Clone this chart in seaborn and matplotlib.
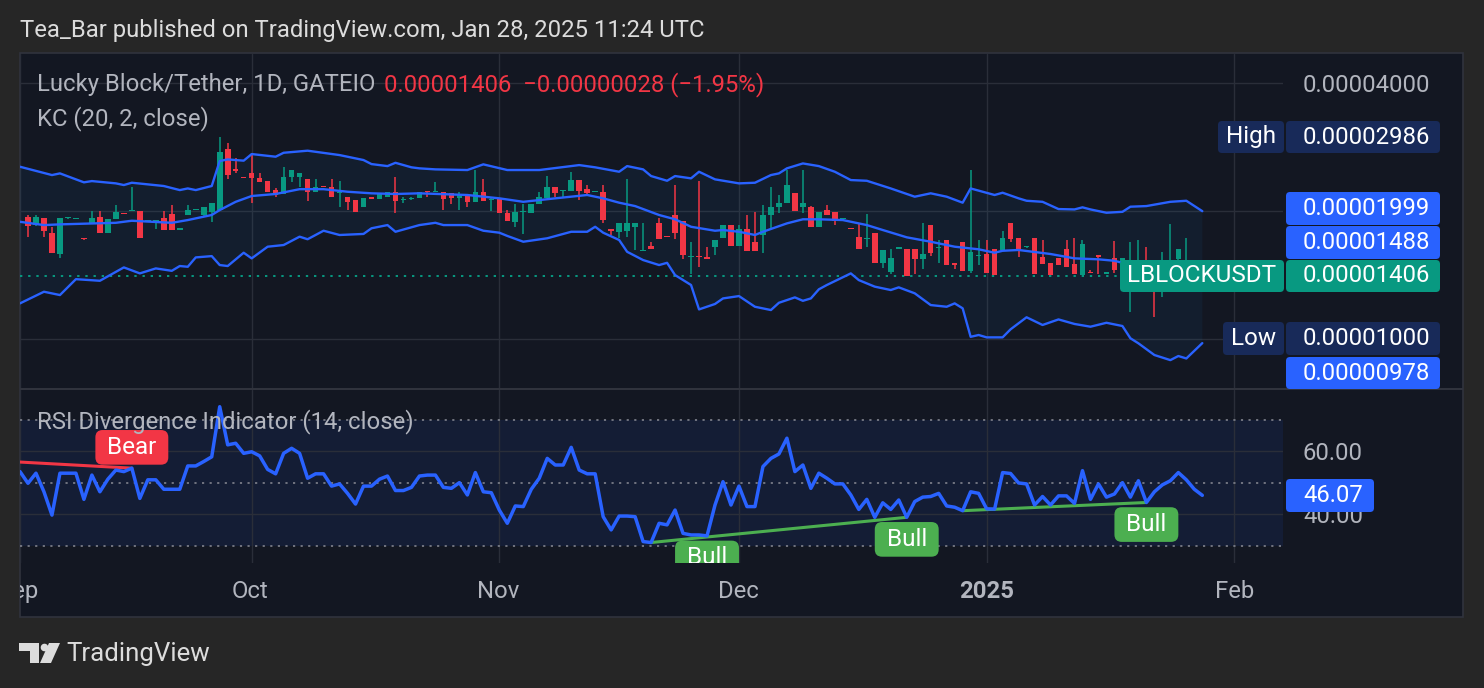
import numpy as np
import pandas as pd
import seaborn as sns
import matplotlib.pyplot as plt
from matplotlib.patches import Rectangle, FancyBboxPatch, Polygon, Circle
from matplotlib.ticker import NullLocator, NullFormatter

# prices below are in units of 0.00001 USDT, one daily bar from Sep 3 2024
first_day = pd.Timestamp("2024-09-03")

open_e5 = [1.934, 1.854, 1.923, 1.779, 1.585, 1.922, 1.915, 1.720, 1.877, 1.934,
           1.774, 1.912, 1.978, 2.005, 2.000, 1.897, 1.894, 1.923, 1.969, 1.810,
           1.958, 2.009, 1.958, 1.992, 2.011, 2.795, 2.507, 2.400, 2.461, 2.388,
           2.357, 2.241, 2.190, 2.410, 2.410, 2.375, 2.221, 2.284, 2.274, 2.205,
           2.162, 2.123, 2.041, 2.145, 2.135, 2.162, 2.221, 2.123, 2.138, 2.143,
           2.229, 2.217, 2.221, 2.202, 2.143, 2.174, 2.103, 2.221, 2.120, 2.131,
           1.982, 1.887, 1.991, 1.976, 2.078, 2.143, 2.274, 2.227, 2.229, 2.366,
           2.249, 2.219, 2.221, 1.812, 1.788, 1.798, 1.831, 1.613, 1.655, 1.877,
           1.737, 1.958, 1.898, 1.560, 1.562, 1.562, 1.643, 1.726, 1.854, 1.655,
           1.812, 1.694, 1.757, 1.958, 2.041, 2.086, 2.209, 2.041, 2.041, 1.831,
           2.011, 1.992, 1.911, 1.817, 1.735, 1.716, 1.774, 1.507, 1.440, 1.633,
           1.626, 1.626, 1.540, 1.854, 1.634, 1.710, 1.507, 1.694, 1.447, 1.566,
           1.585, 1.626, 1.620, 1.871, 1.726, 1.642, 1.726, 1.560, 1.507, 1.548,
           1.626, 1.501, 1.414, 1.440, 1.576, 1.426, 1.548, 1.466, 1.414, 1.440,
           1.517, 1.453, 1.340, 1.440, 1.543, 1.440, 1.500, 1.434]
high_e5 = [1.958, 1.958, 1.926, 1.837, 1.923, 1.930, 1.920, 1.722, 2.000, 2.000,
           1.916, 2.067, 1.980, 2.274, 2.000, 1.900, 1.898, 2.000, 2.067, 1.815,
           2.067, 2.013, 2.041, 2.086, 2.986, 2.897, 2.661, 2.400, 2.709, 2.453,
           2.357, 2.261, 2.543, 2.498, 2.457, 2.375, 2.375, 2.286, 2.375, 2.357,
           2.162, 2.123, 2.143, 2.146, 2.202, 2.221, 2.410, 2.162, 2.162, 2.221,
           2.229, 2.345, 2.221, 2.202, 2.221, 2.174, 2.498, 2.375, 2.162, 2.131,
           2.011, 2.078, 2.078, 2.078, 2.221, 2.418, 2.274, 2.230, 2.475, 2.366,
           2.303, 2.223, 2.303, 1.812, 1.871, 2.375, 1.871, 1.871, 1.694, 1.923,
           1.738, 2.303, 1.898, 1.694, 2.357, 1.643, 1.710, 1.854, 1.854, 1.854,
           1.958, 1.992, 2.067, 2.274, 2.182, 2.498, 2.209, 2.498, 2.055, 1.992,
           2.067, 1.992, 1.915, 1.818, 1.871, 1.969, 1.774, 1.620, 1.626, 1.636,
           1.626, 1.626, 1.877, 1.854, 1.710, 1.710, 1.507, 1.694, 2.498, 1.710,
           1.710, 1.626, 1.798, 1.871, 1.726, 1.647, 1.726, 1.710, 1.507, 1.548,
           1.710, 1.726, 1.710, 1.453, 1.576, 1.430, 1.702, 1.551, 1.694, 1.710,
           1.649, 1.493, 1.604, 1.865, 1.631, 1.731, 1.510, 1.440]
low_e5 = [1.741, 1.847, 1.741, 1.596, 1.548, 1.915, 1.912, 1.712, 1.877, 1.774,
          1.774, 1.912, 1.970, 2.005, 1.726, 1.895, 1.812, 1.805, 1.805, 1.810,
          1.958, 2.007, 1.934, 1.887, 2.011, 2.375, 2.453, 2.395, 2.093, 2.345,
          2.221, 2.162, 2.190, 2.345, 2.282, 2.115, 2.221, 2.278, 2.162, 2.041,
          2.011, 1.992, 2.041, 2.140, 2.135, 2.162, 1.976, 2.093, 2.123, 2.143,
          2.162, 2.217, 2.011, 2.078, 2.011, 2.041, 2.103, 2.115, 2.003, 1.982,
          1.898, 1.837, 1.767, 1.976, 2.078, 2.143, 2.162, 2.162, 2.229, 2.123,
          2.182, 2.217, 1.877, 1.757, 1.729, 1.735, 1.620, 1.613, 1.626, 1.717,
          1.734, 1.717, 1.540, 1.422, 1.474, 1.540, 1.576, 1.726, 1.655, 1.655,
          1.613, 1.613, 1.596, 1.822, 1.976, 2.086, 2.003, 1.976, 1.831, 1.831,
          1.958, 1.854, 1.909, 1.813, 1.626, 1.649, 1.507, 1.466, 1.422, 1.632,
          1.406, 1.422, 1.459, 1.567, 1.507, 1.493, 1.459, 1.447, 1.427, 1.493,
          1.427, 1.414, 1.620, 1.694, 1.560, 1.640, 1.422, 1.501, 1.414, 1.493,
          1.479, 1.422, 1.414, 1.430, 1.422, 1.424, 1.427, 1.466, 1.160, 1.440,
          1.376, 1.127, 1.257, 1.440, 1.517, 1.440, 1.420, 1.400]
close_e5 = [1.847, 1.934, 1.798, 1.596, 1.923, 1.923, 1.917, 1.715, 1.923, 1.774,
            1.912, 1.992, 1.972, 2.011, 1.726, 1.899, 1.898, 1.805, 1.805, 1.813,
            2.011, 2.011, 2.041, 2.086, 2.758, 2.431, 2.480, 2.397, 2.397, 2.345,
            2.221, 2.182, 2.410, 2.498, 2.453, 2.221, 2.274, 2.280, 2.162, 2.209,
            2.103, 1.992, 2.143, 2.141, 2.202, 2.221, 2.115, 2.131, 2.143, 2.221,
            2.217, 2.221, 2.131, 2.143, 2.182, 2.103, 2.221, 2.115, 2.123, 1.982,
            1.898, 1.992, 1.993, 2.078, 2.162, 2.274, 2.209, 2.229, 2.366, 2.229,
            2.202, 2.221, 1.905, 1.798, 1.871, 1.871, 1.871, 1.615, 1.626, 1.717,
            1.735, 1.779, 1.576, 1.562, 1.559, 1.540, 1.710, 1.854, 1.655, 1.812,
            1.613, 1.613, 1.958, 2.041, 2.086, 2.303, 2.003, 2.086, 1.831, 1.992,
            1.958, 1.898, 1.913, 1.814, 1.626, 1.718, 1.507, 1.620, 1.548, 1.635,
            1.406, 1.540, 1.585, 1.596, 1.636, 1.493, 1.493, 1.447, 1.604, 1.568,
            1.427, 1.414, 1.726, 1.717, 1.620, 1.645, 1.422, 1.501, 1.414, 1.493,
            1.479, 1.422, 1.673, 1.432, 1.562, 1.428, 1.453, 1.551, 1.493, 1.517,
            1.414, 1.340, 1.466, 1.517, 1.631, 1.517, 1.434, 1.406]

# RSI(14) from Sep 2 (one bar before the first candle)
rsi_vals = [53.6,
            49.9, 53.1, 47.2, 39.8, 53.1, 53.1, 53.1, 44.8, 52.5, 47.2,
            51.2, 54.1, 53.6, 54.7, 45.1, 51.0, 51.0, 48.0, 48.0, 48.0,
            55.4, 55.4, 56.8, 58.3, 74.2, 62.1, 62.6, 59.4, 59.9, 58.6,
            54.3, 52.9, 59.4, 61.0, 59.4, 51.5, 52.9, 52.9, 49.0, 49.7,
            46.7, 43.3, 49.0, 49.0, 51.2, 52.2, 47.6, 47.6, 48.6, 52.2,
            52.5, 52.5, 48.6, 48.3, 50.1, 46.2, 53.3, 47.2, 46.9, 41.4,
            37.2, 42.7, 42.5, 48.0, 51.5, 57.8, 55.7, 55.7, 61.3, 54.1,
            52.9, 52.9, 39.3, 35.1, 39.5, 39.5, 39.3, 31.4, 31.1, 37.2,
            36.7, 41.4, 34.0, 33.5, 33.5, 33.2, 43.0, 50.4, 43.0, 49.0,
            42.5, 42.5, 55.2, 57.8, 59.2, 64.2, 53.6, 55.7, 48.3, 53.1,
            51.5, 49.7, 49.7, 46.2, 41.6, 44.8, 39.1, 43.7, 41.6, 44.6,
            39.1, 44.1, 45.5, 45.7, 46.7, 42.7, 42.3, 41.2, 47.2, 46.7,
            41.8, 41.7, 53.3, 53.0, 50.0, 49.7, 43.0, 45.7, 43.0, 45.9,
            45.9, 43.5, 53.9, 44.8, 49.7, 45.5, 46.5, 50.1, 45.5, 50.7,
            43.8, 47.2, 49.4, 50.7, 53.3, 51.0, 48.0, 46.07]

# Keltner channel (20, 2), read where the lines bend; day = bars after Sep 3
kc_upper_day = [-1, 3, 4, 7, 8, 11, 12, 13, 17, 19, 20, 21, 23, 24, 25, 27, 28, 31, 32, 35,
                39, 42, 43, 45, 46, 48, 49, 51, 55, 57, 60, 64, 69, 71, 74, 75, 77, 78, 80, 81,
                83, 84, 86, 89, 91, 93, 94, 95, 97, 99, 101, 103, 105, 108, 111, 113, 115, 117, 118, 121,
                122, 124, 125, 127, 129, 131, 132, 133, 135, 137, 138, 140, 143, 145, 147]
kc_upper = [2.543, 2.431, 2.453, 2.337, 2.353, 2.324, 2.303, 2.332, 2.291, 2.241,
            2.261, 2.241, 2.291, 2.623, 2.646, 2.628, 2.724, 2.685, 2.743, 2.774,
            2.709, 2.637, 2.580, 2.552, 2.598, 2.535, 2.521, 2.507, 2.498, 2.576,
            2.498, 2.498, 2.566, 2.535, 2.475, 2.552, 2.507, 2.418, 2.357, 2.418,
            2.388, 2.475, 2.375, 2.324, 2.332, 2.431, 2.453, 2.521, 2.589, 2.552,
            2.475, 2.366, 2.357, 2.261, 2.162, 2.202, 2.162, 2.093, 2.261, 2.182,
            2.209, 2.143, 2.115, 2.103, 2.022, 2.018, 2.041, 2.018, 1.982, 1.992,
            2.048, 2.055, 2.103, 2.115, 1.999]
kc_mid_day = [-1, 2, 4, 11, 13, 18, 20, 23, 24, 26, 28, 31, 34, 37, 40, 43, 46, 49, 55, 59,
              62, 66, 70, 72, 74, 76, 79, 81, 83, 86, 87, 89, 91, 92, 95, 97, 99, 102, 105, 107,
              110, 113, 116, 119, 121, 122, 124, 128, 131, 134, 136, 137, 147]
kc_mid = [1.887, 1.854, 1.861, 1.877, 1.898, 1.877, 1.905, 1.958, 2.011, 2.103,
          2.170, 2.194, 2.252, 2.252, 2.221, 2.202, 2.194, 2.202, 2.182, 2.143,
          2.103, 2.143, 2.182, 2.143, 2.093, 2.055, 1.958, 1.913, 1.837, 1.798,
          1.805, 1.788, 1.757, 1.788, 1.871, 1.913, 1.913, 1.905, 1.854, 1.805,
          1.735, 1.694, 1.649, 1.626, 1.596, 1.613, 1.620, 1.585, 1.548, 1.540,
          1.528, 1.511, 1.488]
kc_lower_day = [-1, 2, 4, 6, 9, 12, 14, 16, 18, 19, 20, 21, 23, 24, 25, 27, 28, 30, 32, 34,
                35, 37, 39, 42, 43, 45, 46, 49, 51, 52, 55, 57, 59, 60, 62, 65, 68, 70, 71, 72,
                74, 75, 77, 79, 80, 81, 83, 84, 86, 87, 89, 91, 93, 94, 96, 97, 98, 99, 100, 103,
                104, 106, 108, 109, 111, 113, 115, 116, 117, 118, 119, 120, 122, 123, 125, 127, 129, 131, 133, 135,
                137, 138, 139, 141, 143, 144, 145, 147]
kc_lower = [1.213, 1.292, 1.269, 1.383, 1.371, 1.474, 1.427, 1.466, 1.447, 1.485,
            1.479, 1.556, 1.567, 1.493, 1.485, 1.596, 1.548, 1.649, 1.664, 1.741,
            1.717, 1.798, 1.757, 1.767, 1.822, 1.854, 1.788, 1.854, 1.877, 1.854,
            1.854, 1.798, 1.779, 1.748, 1.694, 1.726, 1.788, 1.788, 1.837, 1.779,
            1.710, 1.604, 1.534, 1.493, 1.511, 1.414, 1.340, 1.174, 1.209, 1.246,
            1.262, 1.191, 1.170, 1.217, 1.253, 1.230, 1.246, 1.309, 1.340, 1.427,
            1.376, 1.328, 1.304, 1.323, 1.281, 1.202, 1.191, 1.213, 1.181, 1.012,
            1.022, 1.009, 1.009, 1.054, 1.125, 1.079, 1.112, 1.085, 1.069, 1.092,
            1.073, 1.004, 0.977, 0.917, 0.892, 0.912, 0.900, 0.978]

range_high_e5, range_low_e5 = 2.986, 1.000

# divergence pivots (bar index after Sep 3)
bull_pairs = [(78, 110), (117, 140)]
bull_tags = [85, 110, 140]
bear_tag = 13
bear_start = ("2024-08-26", 57.6)

month_ticks = ["2024-09-02", "2024-10-01", "2024-11-01", "2024-12-01", "2025-01-01", "2025-02-01"]
month_names = ["Sep", "Oct", "Nov", "Dec", "2025", "Feb"]

sns.set_theme(style="dark")
plt.rcParams["font.family"] = ["Roboto", "DejaVu Sans"]

BG_OUT = "#262626"
BG = "#131722"
GRID = "#2a2e39"
TXT = "#b2b5be"
GREEN = "#089981"
RED = "#f23645"
BLUE = "#2962ff"
NAVY = "#182a59"
LGREEN = "#4caf50"
FS = 17.2

W, H = 1484, 688
fig = plt.figure(figsize=(W / 100, H / 100), dpi=100, facecolor=BG_OUT)


def frac(x0, y0, x1, y1):
    return [x0 / W, 1 - y1 / H, (x1 - x0) / W, (y1 - y0) / H]


fig.add_artist(Rectangle((20 / W, 1 - 617 / H), 1443 / W, 564 / H, transform=fig.transFigure,
                         fc=BG, ec="#30333d", lw=1.2, zorder=-10))

ax = fig.add_axes(frac(20, 54, 1283, 389))
ax_rsi = fig.add_axes(frac(20, 390, 1283, 563))
ax_t = fig.add_axes(frac(20, 563, 1283, 616))
for a in (ax, ax_rsi, ax_t):
    a.set_facecolor("none")
    for s in a.spines.values():
        s.set_visible(False)
    a.set_xlim(-0.75, 157.1)

month_x = [(pd.Timestamp(d) - first_day).days for d in month_ticks]

# ---- price pane ----
o = np.array(open_e5)
hi = np.array(high_e5)
lo = np.array(low_e5)
c = np.array(close_e5)
bars = np.arange(len(c))
cols = np.where(c >= o, GREEN, RED)

ax.fill(np.r_[kc_upper_day, kc_lower_day[::-1]], np.r_[kc_upper, kc_lower[::-1]],
        color="#2196f3", alpha=0.06, lw=0, zorder=1)
ax.axhline(c[-1], color=GREEN, ls=(0, (1.2, 3)), lw=1.4, zorder=2)
ax.vlines(bars, lo, hi, colors=cols, lw=1.1, zorder=3)
b_lo = np.minimum(o, c)
b_hi = np.maximum(np.maximum(o, c), b_lo * 1.006)
ax.bar(bars, b_hi - b_lo, bottom=b_lo, width=0.7, color=cols, lw=0, zorder=3)
for d, v in [(kc_upper_day, kc_upper), (kc_mid_day, kc_mid), (kc_lower_day, kc_lower)]:
    sns.lineplot(x=d, y=v, ax=ax, color=BLUE, lw=1.7, estimator=None, sort=False, zorder=4)

ax.set_yscale("log")
ax.set_ylim(0.7628, 4.684)
ax.yaxis.set_minor_locator(NullLocator())
ax.yaxis.set_minor_formatter(NullFormatter())
ax.set_yticks([1, 2, 4])
ax.set_yticklabels(["", "", f"{4 * 1e-5:.8f}"])
ax.yaxis.tick_right()
ax.set_xticks(month_x)
ax.tick_params(axis="x", length=0, labelbottom=False)
ax.tick_params(axis="y", length=0, pad=14.4, labelsize=FS, labelcolor=TXT)
ax.grid(True, color=GRID, lw=1)
ax.set_axisbelow(True)
ax.set_xlabel("")
ax.set_ylabel("")

# ---- RSI pane ----
rsi = np.array(rsi_vals)
rsi_x = np.arange(len(rsi)) - 1
rsi_c = rsi[1:]
ax_rsi.axhspan(30, 70, color=BLUE, alpha=0.09, lw=0, zorder=0)
for lvl in (70, 50, 30):
    ax_rsi.axhline(lvl, color="#787b86", ls=(0, (1.2, 3)), lw=1.3, zorder=1)
sns.lineplot(x=rsi_x, y=rsi, ax=ax_rsi, color=BLUE, lw=2.5, estimator=None, zorder=4)
for i0, i1 in bull_pairs:
    ax_rsi.plot([i0, i1], [rsi_c[i0], rsi_c[i1]], color=LGREEN, lw=2.2, zorder=3,
                solid_capstyle="butt")
bs = (pd.Timestamp(bear_start[0]) - first_day).days
ax_rsi.plot([bs, bear_tag], [bear_start[1], rsi_c[bear_tag]], color=RED, lw=2.2, zorder=3)

for i in bull_tags:
    ax_rsi.text(i, rsi_c[i] - 7.0, " Bull ", ha="center", va="center", color="white",
                fontsize=17.5, zorder=6, clip_on=True,
                bbox=dict(boxstyle="round,pad=0.24,rounding_size=0.3", fc=LGREEN, ec="none"))
ax_rsi.text(bear_tag, rsi_c[bear_tag] + 6.6, " Bear ", ha="center", va="center", color="white",
            fontsize=17.5, zorder=6, clip_on=True,
            bbox=dict(boxstyle="round,pad=0.24,rounding_size=0.3", fc=RED, ec="none"))

ax_rsi.set_ylim(24.6, 79.5)
ax_rsi.set_yticks([40, 60])
ax_rsi.set_yticklabels(["40.00", "60.00"])
ax_rsi.yaxis.tick_right()
ax_rsi.set_xticks(month_x)
ax_rsi.tick_params(axis="x", length=0, labelbottom=False)
ax_rsi.tick_params(axis="y", length=0, pad=14.4, labelsize=FS, labelcolor=TXT)
ax_rsi.grid(True, color=GRID, lw=1)
ax_rsi.set_axisbelow(True)
ax_rsi.set_xlabel("")
ax_rsi.set_ylabel("")

# ---- time axis ----
ax_t.set_xticks([])
ax_t.set_yticks([])
for xi, name in zip(month_x, month_names):
    ax_t.text(xi, 0.47, name, transform=ax_t.get_xaxis_transform(), ha="center", va="center",
              color=TXT, fontsize=FS, fontweight="bold" if name == "2025" else "normal",
              clip_on=True)

# ---- overlay: legends, price tags, frame texts ----
ov = fig.add_axes([0, 0, 1, 1], zorder=10)
ov.set_xlim(0, W)
ov.set_ylim(H, 0)
ov.axis("off")

fig.add_artist(Rectangle((20 / W, 1 - 390.5 / H), 1443 / W, 2 / H, transform=fig.transFigure,
                         fc="#30333d", ec="none", zorder=5))


def fmt(v):
    return f"{v * 1e-5:.8f}"


def tag(x0, y0, x1, y1, fc, text, left=None, size=FS):
    ov.add_patch(FancyBboxPatch((x0, y0), x1 - x0, y1 - y0,
                                boxstyle="round,pad=0,rounding_size=4", fc=fc, ec="none"))
    if left is None:
        ov.text((x0 + x1) / 2, (y0 + y1) / 2, text, ha="center", va="center",
                color="white", fontsize=size)
    else:
        ov.text(left, (y0 + y1) / 2, text, ha="left", va="center", color="white", fontsize=size)


tag(1218, 121, 1284, 153, NAVY, "High", size=17.5)
tag(1286, 121, 1440, 153, NAVY, fmt(max(high_e5)), left=1303)
tag(1286, 192, 1440, 225, BLUE, fmt(kc_upper[-1]), left=1303)
tag(1286, 226, 1440, 259, BLUE, fmt(kc_mid[-1]), left=1303)
tag(1120, 260, 1284, 292, GREEN, "LBLOCKUSDT", size=17.5)
tag(1286, 260, 1440, 292, GREEN, fmt(c[-1]), left=1303)
tag(1223, 322, 1284, 355, NAVY, "Low", size=17.5)
tag(1286, 322, 1440, 355, NAVY, fmt(range_low_e5), left=1303)
tag(1286, 357, 1440, 389, BLUE, fmt(kc_lower[-1]), left=1303)
tag(1286, 479, 1374, 512, BLUE, f"{rsi[-1]:.2f}", left=1303)

chg = c[-1] - c[-2]
pct = chg / c[-2] * 100
sign = "\u2212" if chg < 0 else "+"
ov.text(37, 85, "Lucky Block/Tether, 1D, GATEIO", color=TXT, fontsize=FS, va="center")
ov.text(384, 85, f"{fmt(c[-1])}  {sign}{fmt(abs(chg))} ({sign}{abs(pct):.2f}%)",
        color=RED, fontsize=FS, va="center")
ov.text(37, 119, "KC (20, 2, close)", color=TXT, fontsize=FS, va="center")
ov.text(37, 422, "RSI Divergence Indicator (14, close)", color=TXT, fontsize=FS, va="center")

ov.text(20, 31, "Tea_Bar published on TradingView.com, Jan 28, 2025 11:24 UTC",
        color="#dcdcdc", fontsize=FS, va="center")

LOGO = "#dcdcdc"
ov.add_patch(Polygon([(19, 643), (39, 643), (39, 663), (30, 663), (30, 651), (19, 651)],
                     closed=True, fc=LOGO, ec="none"))
ov.add_patch(Circle((44.5, 647.5), 3.8, fc=LOGO, ec="none"))
ov.add_patch(Polygon([(49, 643), (60, 643), (51, 663), (40, 663)], closed=True, fc=LOGO, ec="none"))
ov.text(66, 654, "TradingView", color=LOGO, fontsize=18.6, va="center")

fig.savefig("out.png", dpi=100, facecolor=BG_OUT)
